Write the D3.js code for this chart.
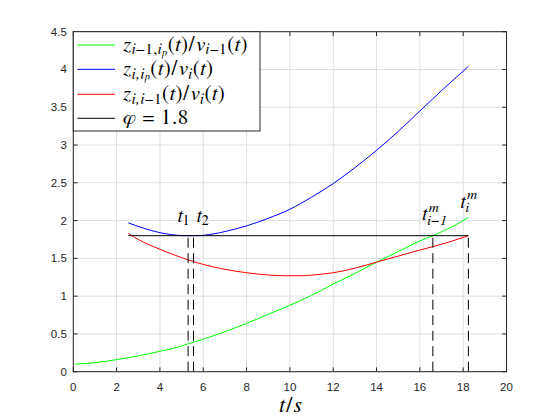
<!DOCTYPE html>
<html><head><meta charset="utf-8">
<script src="https://cdn.jsdelivr.net/npm/d3@7"></script>
<style>body{margin:0;background:#fff}svg{display:block}</style>
</head><body>
<svg id="c" width="560" height="420"></svg>
<script>
// ---- data ----
const xTicks = [0,2,4,6,8,10,12,14,16,18,20];
const yTicks = [0,0.5,1,1.5,2,2.5,3,3.5,4,4.5];
const yTickLabels = ['0','0.5','1','1.5','2','2.5','3','3.5','4','4.5'];

const greenT = [0.08,1,2,3,4,5,5.3,6,7,8,9,10,11,12,13,14,15,16,16.6,17.5,18.24];
const greenV = [0.10,0.12,0.16,0.21,0.27,0.34,0.37,0.43,0.53,0.64,0.76,0.88,1.01,1.16,1.30,1.45,1.59,1.73,1.80,1.92,2.04];

const blueT = [2.54,3.23,4.0,4.5,5.0,5.5,6.0,6.5,7.0,8.0,9.0,10.0,11.0,12.0,13.0,14.0,15.0,16.0,17.0,18.24];
const blueV = [1.97,1.90,1.84,1.815,1.802,1.80,1.805,1.825,1.855,1.93,2.03,2.15,2.31,2.49,2.70,2.93,3.18,3.45,3.72,4.04];

const redT = [2.54,3,4,5,5.3,6,7,8,9,9.8,10.5,11.4,12,13,14,15,16,16.6,17.5,18.24];
const redV = [1.83,1.75,1.62,1.51,1.48,1.42,1.355,1.31,1.28,1.27,1.27,1.29,1.31,1.37,1.45,1.53,1.61,1.655,1.73,1.80];

const phi = 1.8;
const phiRange = [2.54, 18.24];
const markT = [5.3, 5.55, 16.6, 18.24];

// ---- layout ----
const svg = d3.select('#c');
const L = 73.3, R = 506.5, T = 31.7, B = 371.7;
const x = d3.scaleLinear().domain([0,20]).range([L,R]);
const y = d3.scaleLinear().domain([0,4.5]).range([B,T]);
const axisCol = '#262626';
const tickLen = 4.3;
const SANS = "'Liberation Sans', Arial, sans-serif";
const SERIF = "'FreeSerif', 'Latin Modern Math'";

// grid
const g = svg.append('g');
xTicks.forEach(v => g.append('line').attr('x1',x(v)).attr('x2',x(v)).attr('y1',T).attr('y2',B)
  .attr('stroke','#dfdfdf').attr('stroke-width',1));
yTicks.forEach(v => g.append('line').attr('x1',L).attr('x2',R).attr('y1',y(v)).attr('y2',y(v))
  .attr('stroke','#dfdfdf').attr('stroke-width',1));

// curves
const line = d3.line().x(d=>x(d[0])).y(d=>y(d[1])).curve(d3.curveMonotoneX);
const zip = (a,b) => a.map((v,i)=>[v,b[i]]);
svg.append('path').attr('d', line(zip(greenT,greenV))).attr('fill','none').attr('stroke','#00ff00').attr('stroke-width',1);
svg.append('path').attr('d', line(zip(blueT,blueV))).attr('fill','none').attr('stroke','#0000ff').attr('stroke-width',1);
svg.append('path').attr('d', line(zip(redT,redV))).attr('fill','none').attr('stroke','#ff0000').attr('stroke-width',1);
svg.append('line').attr('x1',x(phiRange[0])).attr('x2',x(phiRange[1])).attr('y1',y(phi)).attr('y2',y(phi))
  .attr('stroke','#000').attr('stroke-width',1);

// dashed markers
markT.forEach(v => svg.append('line').attr('x1',x(v)).attr('x2',x(v)).attr('y1',y(0)).attr('y2',y(phi))
  .attr('stroke','#000').attr('stroke-width',1).attr('stroke-dasharray','10,5.5'));

// axes box + ticks
const ax = svg.append('g');
ax.append('rect').attr('x',L).attr('y',T).attr('width',R-L).attr('height',B-T)
  .attr('fill','none').attr('stroke',axisCol).attr('stroke-width',1);
xTicks.forEach(v => {
  ax.append('line').attr('x1',x(v)).attr('x2',x(v)).attr('y1',B).attr('y2',B-tickLen).attr('stroke',axisCol);
  ax.append('line').attr('x1',x(v)).attr('x2',x(v)).attr('y1',T).attr('y2',T+tickLen).attr('stroke',axisCol);
  ax.append('text').attr('x',x(v)).attr('y',B+19).attr('text-anchor','middle')
    .attr('font-family',SANS).attr('font-size',11.5).attr('fill',axisCol).text(String(v));
});
yTicks.forEach((v,i) => {
  ax.append('line').attr('x1',L).attr('x2',L+tickLen).attr('y1',y(v)).attr('y2',y(v)).attr('stroke',axisCol);
  ax.append('line').attr('x1',R).attr('x2',R-tickLen).attr('y1',y(v)).attr('y2',y(v)).attr('stroke',axisCol);
  ax.append('text').attr('x',L-6.5).attr('y',y(v)+4).attr('text-anchor','end')
    .attr('font-family',SANS).attr('font-size',11.5).attr('fill',axisCol).text(yTickLabels[i]);
});

// math text helper: segs = [text, 'i'|'n', level] ; level 0 base, 1 sub, 2 subsub
function mathText(parent, x0, y0, segs, F, anchor, ls) {
  const t = parent.append('text').attr('x',x0).attr('y',y0).attr('font-family',SERIF)
    .attr('fill','#000').attr('text-anchor',anchor||'start').attr('letter-spacing', ls||0);
  const offs = {'0':0,'1':0.17*F,'2':0.24*F};
  const sizes = {'0':F,'1':0.72*F,'2':0.5*F};
  let cur = 0;
  segs.forEach(s => {
    const lv = String(s[2]||0);
    t.append('tspan').attr('dy', offs[lv]-cur).attr('font-size', sizes[lv])
      .attr('font-style', s[1]==='i' ? 'italic' : 'normal').text(s[0]);
    cur = offs[lv];
  });
  return t;
}

// t labels
const F2 = 19.5;
mathText(svg, x(markT[0])+1.5, y(phi)-14, [['t','i',0],['1','n',1]], F2, 'end');
mathText(svg, x(markT[1])+3.3, y(phi)-14, [['t','i',0],['2','n',1]], F2, 'start');
function tmLabel(x0, y0, sub) {
  const t = mathText(svg, x0, y0, [['t','i',0]], F2);
  const w = t.node().getComputedTextLength();
  t.append('tspan').attr('font-size',0.72*F2).attr('font-style','italic').attr('dy', 0.24*F2).text(sub);
  t.append('tspan').attr('x', x0 + w + 1.5).attr('dy', -0.68*F2)
    .attr('font-size',0.72*F2).attr('font-style','italic').text('m');
}
tmLabel(x(markT[2]) - 10.5, y(phi) - 15.5, 'i−1');
tmLabel(x(markT[3]) - 7.8, y(phi) - 28, 'i');

// x label
mathText(svg, (L+R)/2 + 1, 411.5, [['t','i',0],['/','n',0],['s','i',0]], 22, 'middle', 1.2);

// legend
const lg = svg.append('g');
lg.append('rect').attr('x',L).attr('y',T).attr('width',186.7).attr('height',99.3)
  .attr('fill','#fff').attr('stroke','#262626').attr('stroke-width',1);
const legItems = [
  {c:'#00ff00', segs:[['z','i',0],['i','i',1],['−1,','n',1],['i','i',1],['p','i',2],['(','n',0],['t','i',0],[')/','n',0],['v','i',0],['i','i',1],['−1','n',1],['(','n',0],['t','i',0],[')','n',0]]},
  {c:'#0000ff', segs:[['z','i',0],['i,i','i',1],['p','i',2],['(','n',0],['t','i',0],[')/','n',0],['v','i',0],['i','i',1],['(','n',0],['t','i',0],[')','n',0]]},
  {c:'#ff0000', segs:[['z','i',0],['i,i','i',1],['−1','n',1],['(','n',0],['t','i',0],[')/','n',0],['v','i',0],['i','i',1],['(','n',0],['t','i',0],[')','n',0]]},
  {c:'#000000', segs:[['φ','i',0],[' = 1.8','n',0]]}
];
const legY = [45, 69.3, 94.3, 118.3];
legItems.forEach((it,i) => {
  lg.append('line').attr('x1',77.3).attr('x2',115).attr('y1',legY[i]).attr('y2',legY[i])
    .attr('stroke',it.c).attr('stroke-width',1);
  mathText(lg, 123, legY[i]+5.8, it.segs, 21, 'start', 0.6);
});
</script>
</body></html>
